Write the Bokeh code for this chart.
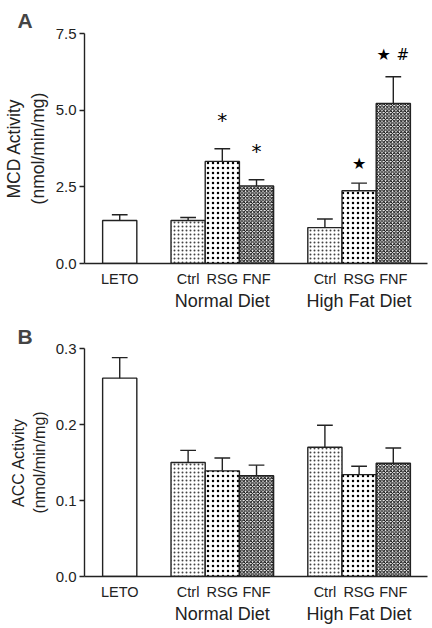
from bokeh.plotting import figure
from bokeh.layouts import column
from bokeh.models import Range1d, FixedTicker, LinearAxis, ColumnDataSource, NumeralTickFormatter
from bokeh.core.properties import value
from bokeh.embed import file_html
from bokeh.resources import INLINE

FONT = "Liberation Sans"
INK = "#222222"

# ---- data ----
groups = ["LETO", "Ctrl", "RSG", "FNF", "Ctrl", "RSG", "FNF"]
xpos = [0, 2, 3, 4, 6, 7, 8]
diets = ["Normal Diet", "High Fat Diet"]
diet_pos = [3, 7]
kinds = ["leto", "ctrl", "rsg", "fnf", "ctrl", "rsg", "fnf"]

mcd_mean = [1.40, 1.40, 3.33, 2.53, 1.17, 2.37, 5.22]
mcd_err = [0.19, 0.10, 0.41, 0.20, 0.28, 0.25, 0.87]
acc_mean = [0.261, 0.150, 0.139, 0.1325, 0.170, 0.134, 0.149]
acc_err = [0.027, 0.016, 0.017, 0.014, 0.029, 0.011, 0.020]

# significance marks (panel A)
mark_bar = [2, 3, 5, 6, 6]
mark_sym = ["*", "*", "\u2605", "\u2605", "#"]

styles = {
    "leto": dict(fill_color="white"),
    "ctrl": dict(fill_color="white", hatch_pattern="dot", hatch_color="#444444", hatch_scale=4, hatch_weight=1),
    "rsg": dict(fill_color="white", hatch_pattern="dot", hatch_color="black", hatch_scale=5, hatch_weight=1),
    "fnf": dict(fill_color="white", hatch_pattern="diagonal_cross", hatch_color="black", hatch_scale=3.5, hatch_weight=1.0),
}


def make_panel(letter, means, errs, ymax, yticks, ylabel, label_size, height, border_top,
               border_bottom, title_standoff, marks=False):
    p = figure(width=430, height=height, output_backend="svg", toolbar_location=None,
               x_range=Range1d(-1.03, 9.0), y_range=Range1d(0, ymax),
               min_border_left=81, min_border_right=3, min_border_top=border_top,
               min_border_bottom=border_bottom, title=letter)
    p.title.text_font = FONT
    p.title.text_font_size = "21px"
    p.title.text_font_style = "bold"
    p.title.offset = -67
    p.title.standoff = title_standoff
    p.outline_line_color = None
    p.grid.visible = False
    p.xaxis.visible = False

    for k in ["leto", "ctrl", "rsg", "fnf"]:
        idx = [i for i, kk in enumerate(kinds) if kk == k]
        src = ColumnDataSource(dict(x=[xpos[i] for i in idx], top=[means[i] for i in idx]))
        p.vbar(x="x", top="top", bottom=0, width=1.0, source=src, line_color=INK,
               line_width=1.4, **styles[k])

    tops = [m + e for m, e in zip(means, errs)]
    p.segment(x0=xpos, y0=means, x1=xpos, y1=tops, line_color=INK, line_width=1.4)
    p.segment(x0=[x - 0.23 for x in xpos], y0=tops, x1=[x + 0.23 for x in xpos], y1=tops,
              line_color=INK, line_width=1.4)

    if marks:
        mx, my, ms, yo, fs = [], [], [], [], []
        for b, s in zip(mark_bar, mark_sym):
            my.append(tops[b])
            ms.append(s)
            if b == 6:
                mx.append(xpos[b] + (-0.28 if s != "#" else 0.28))
                yo.append(-22)
            elif s == "*":
                mx.append(xpos[b])
                yo.append(-29)
            else:
                mx.append(xpos[b])
                yo.append(-20)
            fs.append("20px" if s == "*" else ("16px" if s == "\u2605" else "15px"))
        src = ColumnDataSource(dict(x=mx, y=my, t=ms, yo=yo, fs=fs))
        p.text(x="x", y="y", text="t", source=src, y_offset="yo", text_font_size="fs",
               text_align="center", text_baseline="middle", text_color="black",
               text_font=value("DejaVu Sans"))

    # y axis
    ya = p.yaxis[0]
    ya.ticker = FixedTicker(ticks=yticks)
    ya.formatter = NumeralTickFormatter(format="0.0")
    ya.minor_tick_line_color = None
    ya.major_tick_out = 5
    ya.major_tick_in = 0
    ya.major_label_standoff = 3
    ya.major_label_text_font = FONT
    ya.major_label_text_font_size = "15px"
    ya.major_label_text_color = INK
    ya.axis_line_color = INK
    ya.axis_line_width = 1.4
    ya.major_tick_line_color = INK
    ya.major_tick_line_width = 1.4
    ya.axis_label = ylabel
    ya.axis_label_text_font = FONT
    ya.axis_label_text_font_size = label_size
    ya.axis_label_text_font_style = "normal"
    ya.axis_label_text_color = INK
    ya.axis_label_standoff = 5

    # category axis
    xa = LinearAxis(ticker=FixedTicker(ticks=xpos),
                    major_label_overrides={x: g for x, g in zip(xpos, groups)})
    xa.major_tick_line_color = None
    xa.minor_tick_line_color = None
    xa.axis_line_color = INK
    xa.axis_line_width = 1.4
    xa.major_label_standoff = 1
    xa.major_label_text_font = FONT
    xa.major_label_text_font_size = "14.5px"
    xa.major_label_text_color = INK
    p.add_layout(xa, "below")

    # diet axis
    da = LinearAxis(ticker=FixedTicker(ticks=diet_pos),
                    major_label_overrides={x: d for x, d in zip(diet_pos, diets)})
    da.major_tick_line_color = None
    da.minor_tick_line_color = None
    da.axis_line_color = None
    da.major_label_standoff = -5
    da.major_label_text_font = FONT
    da.major_label_text_font_size = "18px"
    da.major_label_text_color = INK
    p.add_layout(da, "below")
    return p


pa = make_panel("A", mcd_mean, mcd_err, 7.5, [0, 2.5, 5.0, 7.5],
                "MCD Activity\n(nmol/min/mg)", "17.5px", 318, 33, 55, 4, marks=True)
pb = make_panel("B", acc_mean, acc_err, 0.3, [0, 0.1, 0.2, 0.3],
                "ACC Activity\n(nmol/min/mg)", "16px", 308, 30, 49, 2)

layout = column(pa, pb, spacing=0)
open("out.html", "w").write(file_html(layout, INLINE))
